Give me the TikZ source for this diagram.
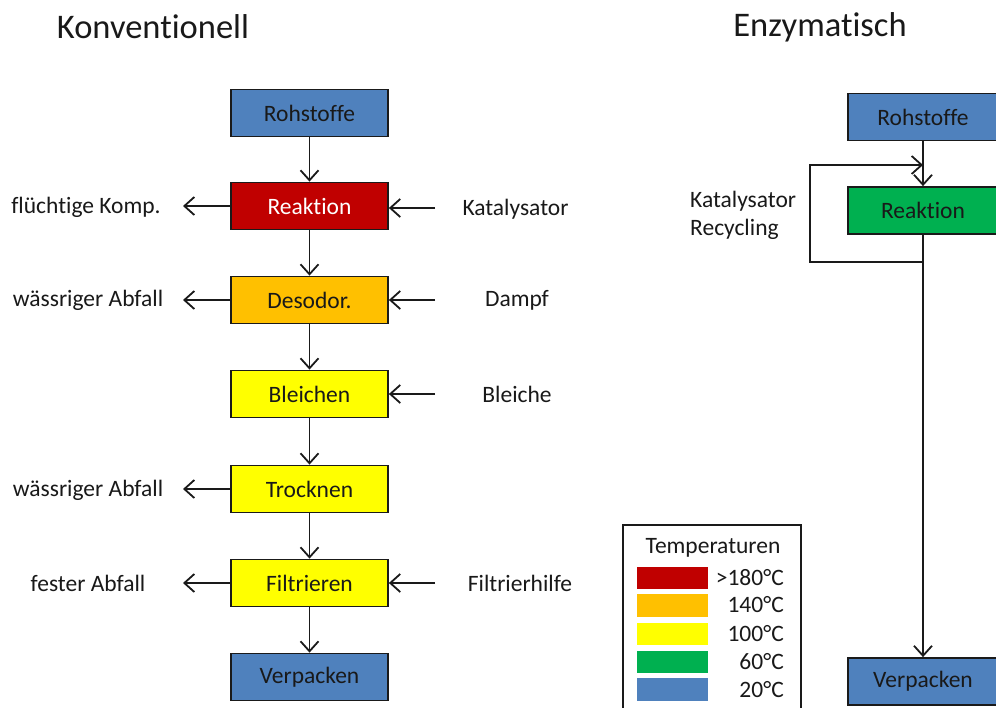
\documentclass[tikz,border=0pt]{standalone}
\usepackage{fontspec}
\setmainfont{Carlito}[Ligatures={NoCommon}]
\usetikzlibrary{arrows.meta}
\definecolor{tred}{HTML}{C00000}
\definecolor{torange}{HTML}{FFC000}
\definecolor{tyellow}{HTML}{FFFF00}
\definecolor{tgreen}{HTML}{00B050}
\definecolor{tblue}{HTML}{4F81BD}
\definecolor{edge}{HTML}{1A1A1A}
\tikzset{
  x=1pt, y=-1pt,
  txt/.style={font=\fontsize{23.5}{28}\selectfont, text=black!90, inner sep=0pt},
  proc/.style={txt, draw=edge, line width=1.8pt, minimum width=157pt, minimum height=47pt},
  proc2/.style={proc, minimum width=150pt},
  ttl/.style={font=\fontsize{34.5}{41}\selectfont, text=black!90, inner sep=0pt},
  arr/.style={line width=1.8pt, draw=edge, -{Straight Barb[length=10pt,width=18pt,line width=1.8pt]}},
}
\begin{document}
\begin{tikzpicture}
\clip (0,0) rectangle (996,707);
\fill[white] (0,0) rectangle (996,707);

% titles
\node[ttl] (t1) at (153,27) {Konventionell};
\node[ttl] (t2) at (820,27) {Enzymatisch};

% left column
\node[proc, fill=tblue]   (roh)  at (309.5,113) {Rohstoffe};
\node[proc, fill=tred, text=white] (reak) at (309.5,206) {Reaktion};
\node[proc, fill=torange] (deso) at (309.5,300) {Desodor.};
\node[proc, fill=tyellow] (blei) at (309.5,394) {Bleichen};
\node[proc, fill=tyellow] (troc) at (309.5,489) {Trocknen};
\node[proc, fill=tyellow] (filt) at (309.5,583) {Filtrieren};
\node[proc, fill=tblue]   (verp) at (309.5,677) {Verpacken};

\draw[arr] (roh) -- (reak);
\draw[arr] (reak) -- (deso);
\draw[arr] (deso) -- (blei);
\draw[arr] (blei) -- (troc);
\draw[arr] (troc) -- (filt);
\draw[arr] (filt) -- (verp);

% side labels
\node[txt] (l1) at (86,207) {flüchtige Komp.};
\node[txt] (l2) at (88,300) {wässriger Abfall};
\node[txt] (l3) at (88,490) {wässriger Abfall};
\node[txt] (l4) at (88,583) {fester Abfall};
\node[txt] (r1) at (515.5,209) {Katalysator};
\node[txt] (r2) at (517,300) {Dampf};
\node[txt] (r3) at (517,394) {Bleiche};
\node[txt] (r4) at (520,583) {Filtrierhilfe};

\coordinate (lo1) at (183,206);
\coordinate (lo2) at (183,300);
\coordinate (lo3) at (183,489);
\coordinate (lo4) at (183,583);
\coordinate (ri1) at (435,208);
\coordinate (ri2) at (435,300);
\coordinate (ri3) at (435,394);
\coordinate (ri4) at (435,583);

\draw[arr] (reak.west) -- (lo1);
\draw[arr] (deso.west) -- (lo2);
\draw[arr] (troc.west) -- (lo3);
\draw[arr] (filt.west) -- (lo4);
\draw[arr] (ri1) -- (reak.east |- ri1);
\draw[arr] (ri2) -- (deso.east);
\draw[arr] (ri3) -- (blei.east);
\draw[arr] (ri4) -- (filt.east);

% right column
\node[proc2, fill=tblue]  (roh2)  at (923,117) {Rohstoffe};
\node[proc2, fill=tgreen] (reak2) at (923,210.5) {Reaktion};
\node[proc2, fill=tblue]  (verp2) at (923,681.5) {Verpacken};

\draw[arr] (roh2) -- (reak2);
\draw[arr] (reak2) -- (verp2);
\coordinate (lb) at (923,262);
\coordinate (lbl) at (810,262);
\coordinate (join) at (923,165);
\draw[arr] (lb) -- (lbl) |- (join);

\node[txt, align=left, anchor=west] (kr) at (690,215) {Katalysator\\Recycling};

% legend
\node[draw=edge, line width=1.8pt, minimum width=178pt, minimum height=210pt, anchor=north west, inner sep=0pt] (leg) at (622,524) {};
\node[txt] (legt) at (713,548) {Temperaturen};
\fill[tred]    (637,567) rectangle (708,589);
\fill[torange] (637,594) rectangle (708,617);
\fill[tyellow] (637,623) rectangle (708,645);
\fill[tgreen]  (637,651) rectangle (708,673);
\fill[tblue]   (637,678) rectangle (708,701);
\node[txt, anchor=east] (c1) at (784,578) {>180°C};
\node[txt, anchor=east] (c2) at (784,605) {140°C};
\node[txt, anchor=east] (c3) at (784,634) {100°C};
\node[txt, anchor=east] (c4) at (784,662) {60°C};
\node[txt, anchor=east] (c5) at (784,690) {20°C};
\end{tikzpicture}
\end{document}
